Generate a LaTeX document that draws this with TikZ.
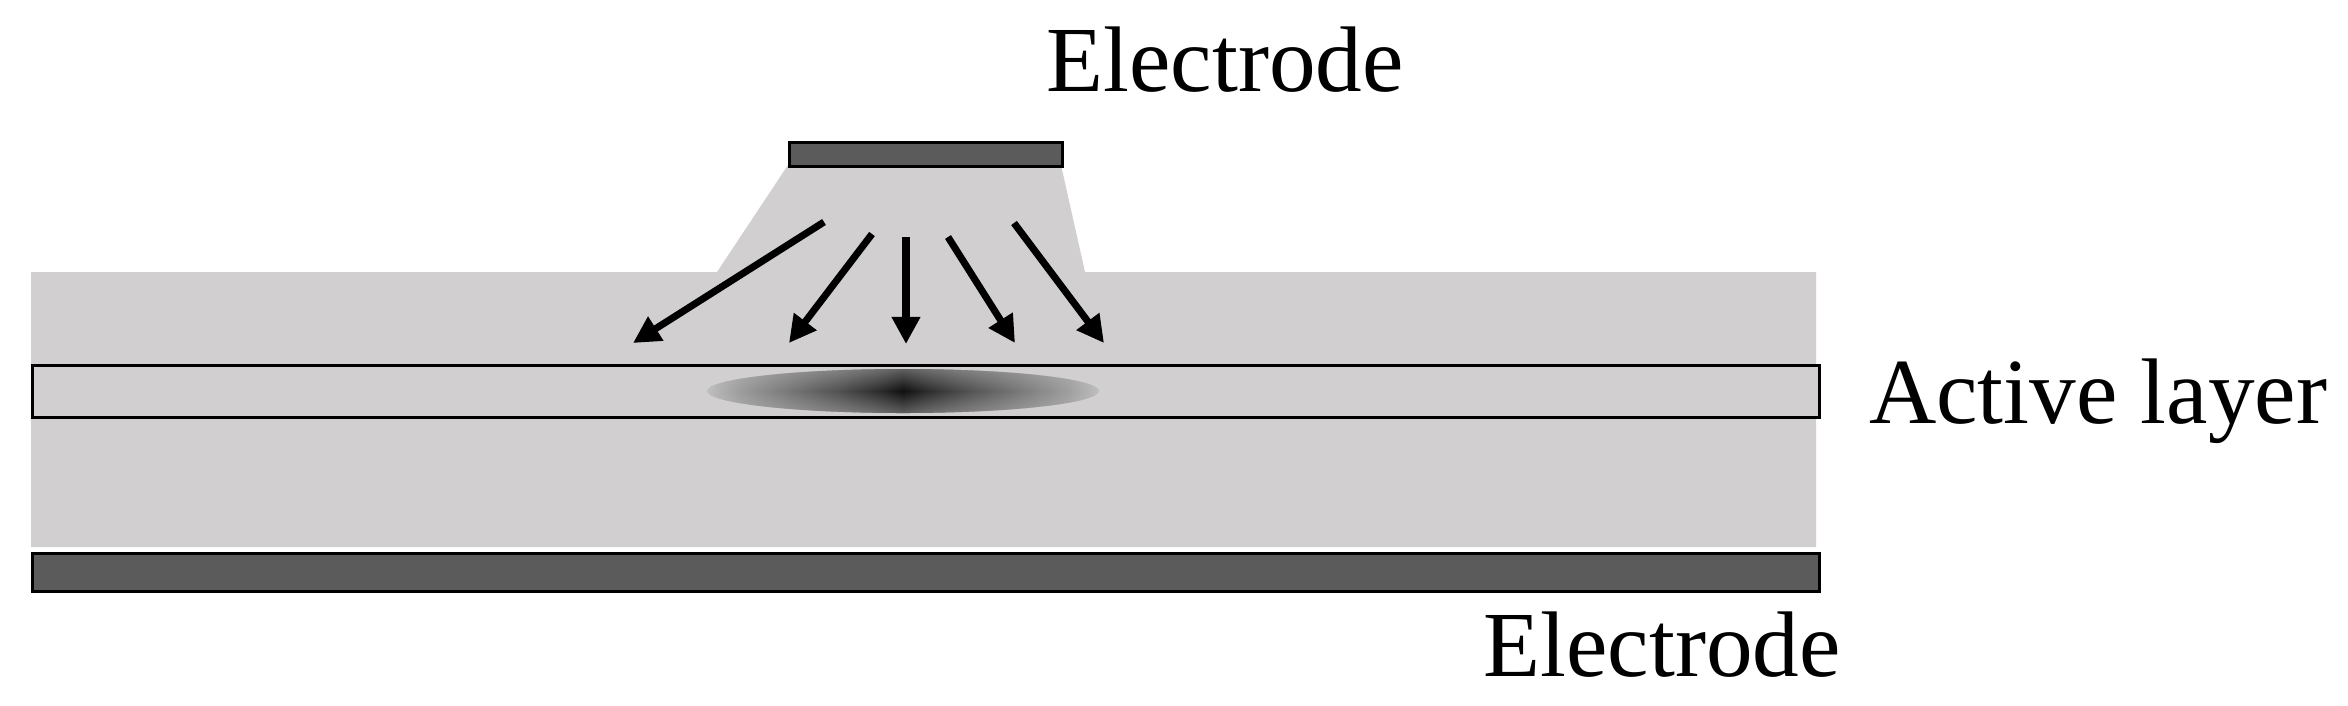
\documentclass[tikz,border=0pt]{standalone}
\usepackage{fontspec}
\setmainfont{Liberation Serif}
\usetikzlibrary{arrows.meta,fadings}
\definecolor{slab}{HTML}{D1CFD0}
\definecolor{electro}{HTML}{5B5B5B}
\definecolor{glowedge}{HTML}{C0BFC0}
\definecolor{glowa}{HTML}{2C2C2C}
\definecolor{glowb}{HTML}{505050}
\definecolor{glowc}{HTML}{7A7A7A}
\definecolor{glowd}{HTML}{9E9E9E}
\definecolor{glowz}{HTML}{101010}
\pgfdeclarehorizontalshading{glow}{100bp}{color(0bp)=(glowedge); color(25bp)=(glowedge); color(29bp)=(glowd); color(35bp)=(glowc); color(42bp)=(glowb); color(47bp)=(glowa); color(50bp)=(glowz); color(53bp)=(glowa); color(58bp)=(glowb); color(65bp)=(glowc); color(71bp)=(glowd); color(75bp)=(glowedge); color(100bp)=(glowedge)}
\tikzfading[name=vedge, top color=transparent!55, bottom color=transparent!55, middle color=transparent!100]
\tikzset{
  electrodebox/.style={fill=electro, draw=black, line width=0.9pt, inner sep=0pt, anchor=north west},
  layerbox/.style={fill=slab, draw=black, line width=0.8pt, inner sep=0pt, anchor=north west},
  ray/.style={line width=2pt, -{Triangle[length=0.27cm,width=0.27cm]}},
  lbl/.style={font=\fontsize{26.5}{30}\selectfont, inner sep=0pt, anchor=base}
}
\begin{document}
\begin{tikzpicture}[x=0.01cm, y=-0.01cm]
\useasboundingbox (0,0) rectangle (2348,705);
% body with ridge
\fill[slab] (31,272) -- (717,272) -- (788,165) -- (1061,165) -- (1085,272) -- (1816,272) -- (1816,547) -- (31,547) -- cycle;
% top electrode
\node[electrodebox, minimum width=2.73cm, minimum height=0.24cm] (topel) at (788,141) {};
% active layer
\node[layerbox, minimum width=17.86cm, minimum height=0.52cm] (active) at (31,364) {};
% glow
\shade[shading=glow] (903,391) ellipse [x radius=196, y radius=22];
\fill[glowedge, path fading=vedge, fit fading=true] (903,391) ellipse [x radius=196, y radius=22];
% bottom electrode
\node[electrodebox, minimum width=17.86cm, minimum height=0.38cm] (botel) at (31,552) {};
% arrows
\coordinate (s1) at (824,222); \coordinate (e1) at (633,343);
\coordinate (s2) at (872,234); \coordinate (e2) at (789,343);
\coordinate (s3) at (906,237); \coordinate (e3) at (906,344);
\coordinate (s4) at (948,237); \coordinate (e4) at (1015,343);
\coordinate (s5) at (1014,223); \coordinate (e5) at (1104,343);
\foreach \i in {1,...,5} \draw[ray] (s\i) -- (e\i);
% labels
\node[lbl] (lt) at (1225,91) {Electrode};
\node[lbl] (la) at (2098,423) {Active layer};
\node[lbl] (lb) at (1662,676) {Electrode};
\end{tikzpicture}
\end{document}
